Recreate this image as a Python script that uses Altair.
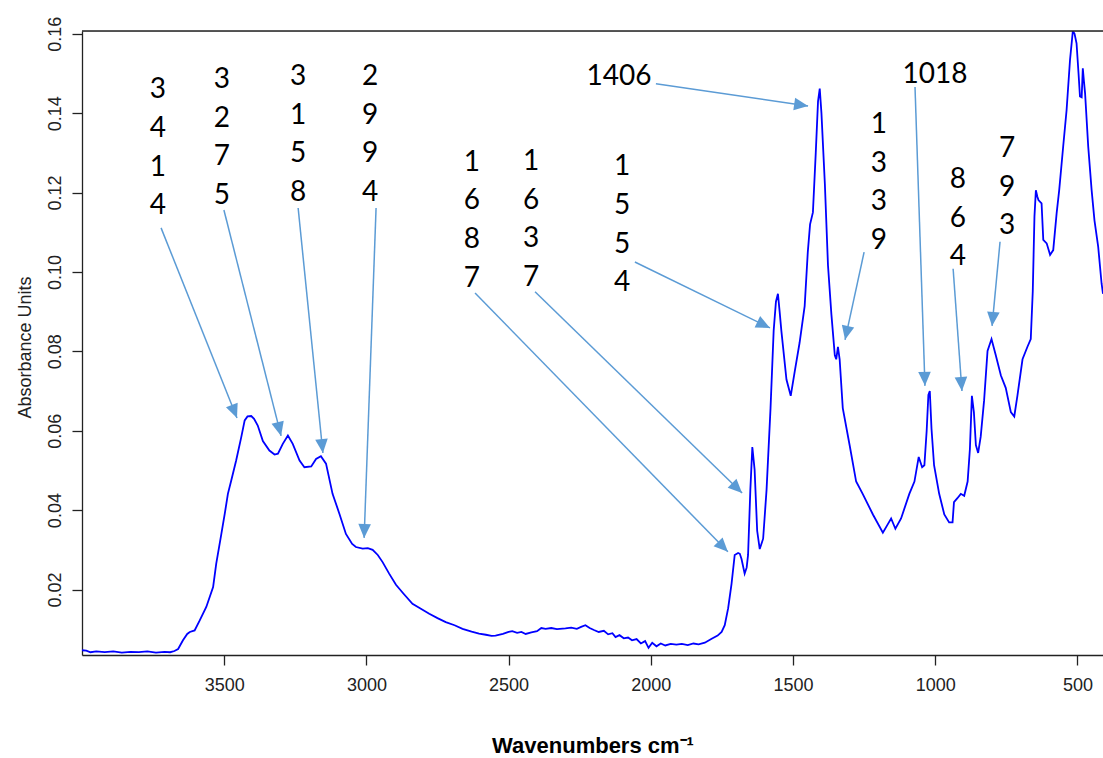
import math
import altair as alt
import pandas as pd

# ---------------- spectrum ----------------
wavenumber = [
    4000, 3985, 3970, 3950, 3920, 3890, 3860, 3830, 3800, 3770, 3740, 3710, 3690, 3675,
    3662, 3645, 3630, 3621, 3604, 3586, 3563, 3539, 3528, 3510, 3498, 3487, 3475, 3458,
    3440, 3428, 3418, 3405, 3395, 3382, 3364, 3341, 3323, 3311, 3294, 3276, 3259, 3235,
    3218, 3194, 3177, 3160, 3142, 3119, 3095, 3072, 3050, 3037, 3013, 2995, 2978, 2960,
    2943, 2920, 2896, 2870, 2838, 2810, 2779, 2750, 2721, 2690, 2662, 2630, 2604, 2580,
    2560, 2546, 2520, 2500, 2487, 2470, 2455, 2440, 2420, 2400, 2385, 2370, 2350, 2330,
    2300, 2280, 2260, 2245, 2230, 2215, 2200, 2183, 2165, 2150, 2135, 2124, 2110, 2095,
    2080, 2066, 2050, 2035, 2020, 2008, 1995, 1980, 1965, 1949, 1930, 1910, 1891, 1870,
    1850, 1832, 1810, 1786, 1765, 1751, 1740, 1728, 1716, 1705, 1693, 1687, 1681, 1670,
    1663, 1658, 1650, 1643, 1635, 1626, 1617, 1605, 1593, 1579, 1568, 1560, 1553, 1547,
    1541, 1523, 1508, 1494, 1477, 1459, 1448, 1440, 1430, 1420, 1412, 1406, 1400, 1388,
    1377, 1365, 1353, 1348, 1342, 1336, 1325, 1301, 1278, 1255, 1219, 1184, 1167, 1155,
    1140, 1120, 1091, 1073, 1058, 1046, 1038, 1030, 1024, 1019, 1013, 1004, 986, 968,
    951, 939, 934, 922, 910, 898, 886, 878, 871, 864, 857, 849, 840, 828,
    816, 802, 787, 769, 752, 734, 722, 711, 693, 676, 664, 657, 651, 646,
    641, 637, 626, 620, 608, 596, 585, 573, 564, 550, 538, 526, 516, 510,
    503, 496, 491, 485, 481, 477, 473, 462, 450, 440, 427, 415, 410,
]
absorbance = [
    0.0047, 0.0046, 0.0042, 0.0044, 0.0042, 0.0044, 0.0041, 0.0043, 0.0042, 0.0044, 0.0041, 0.0043, 0.0042, 0.0045,
    0.0050, 0.0072, 0.0088, 0.0093, 0.0097, 0.0122, 0.0156, 0.0206, 0.0265, 0.0340, 0.0391, 0.0441, 0.0475, 0.0525,
    0.0584, 0.0626, 0.0636, 0.0637, 0.0630, 0.0613, 0.0574, 0.0550, 0.0540, 0.0542, 0.0567, 0.0588, 0.0567, 0.0525,
    0.0508, 0.0510, 0.0529, 0.0536, 0.0517, 0.0441, 0.0391, 0.0340, 0.0315, 0.0307, 0.0303, 0.0304, 0.0300, 0.0287,
    0.0269, 0.0240, 0.0212, 0.0190, 0.0164, 0.0152, 0.0139, 0.0128, 0.0118, 0.0110, 0.0101, 0.0094, 0.0089, 0.0086,
    0.0083, 0.0084, 0.0088, 0.0093, 0.0095, 0.0091, 0.0093, 0.0088, 0.0092, 0.0095, 0.0103, 0.0101, 0.0103, 0.0100,
    0.0102, 0.0104, 0.0101, 0.0106, 0.0110, 0.0103, 0.0098, 0.0093, 0.0096, 0.0087, 0.0090, 0.0080, 0.0085, 0.0077,
    0.0079, 0.0072, 0.0075, 0.0064, 0.0070, 0.0053, 0.0066, 0.0057, 0.0064, 0.0059, 0.0063, 0.0061, 0.0063, 0.0060,
    0.0064, 0.0062, 0.0066, 0.0076, 0.0084, 0.0093, 0.0110, 0.0153, 0.0215, 0.0287, 0.0292, 0.0290, 0.0277, 0.0240,
    0.0255, 0.0287, 0.0451, 0.0559, 0.0502, 0.0348, 0.0302, 0.0328, 0.0451, 0.0657, 0.0852, 0.0925, 0.0945, 0.0900,
    0.0852, 0.0729, 0.0688, 0.0749, 0.0821, 0.0914, 0.1050, 0.1120, 0.1150, 0.1300, 0.1430, 0.1462, 0.1400, 0.1222,
    0.1017, 0.0893, 0.0790, 0.0780, 0.0811, 0.0780, 0.0657, 0.0564, 0.0472, 0.0441, 0.0389, 0.0343, 0.0364, 0.0379,
    0.0353, 0.0379, 0.0441, 0.0472, 0.0534, 0.0508, 0.0513, 0.0600, 0.0690, 0.0700, 0.0605, 0.0513, 0.0441, 0.0389,
    0.0369, 0.0369, 0.0420, 0.0430, 0.0441, 0.0436, 0.0472, 0.0554, 0.0688, 0.0647, 0.0564, 0.0544, 0.0585, 0.0677,
    0.0801, 0.0831, 0.0790, 0.0739, 0.0708, 0.0647, 0.0636, 0.0688, 0.0780, 0.0811, 0.0831, 0.0950, 0.1140, 0.1206,
    0.1190, 0.1181, 0.1173, 0.1081, 0.1072, 0.1043, 0.1055, 0.1148, 0.1206, 0.1316, 0.1408, 0.1534, 0.1607, 0.1600,
    0.1576, 0.1500, 0.1442, 0.1440, 0.1513, 0.1480, 0.1450, 0.1316, 0.1206, 0.1130, 0.1064, 0.0971, 0.0945,
]

# ---------------- annotations ----------------
v_labels = ["3414", "3275", "3158", "2994", "1687", "1637", "1554", "1339", "864", "793"]
v_label_wn = [3733, 3508, 3240, 2987, 2629, 2421, 2101, 1198, 920, 747]
v_label_abs = [0.1458, 0.1484, 0.1491, 0.1491, 0.1275, 0.1277, 0.1264, 0.1370, 0.1232, 0.1310]

h_labels = ["1406", "1018"]
h_label_wn = [2112, 1001]
h_label_abs = [0.1491, 0.1496]

arrow_from_wn = [3722, 3501, 3240, 2966, 2618, 2407, 2056, 1982, 1250, 1071, 937, 772]
arrow_from_abs = [0.1111, 0.1156, 0.1161, 0.1161, 0.0947, 0.0950, 0.1025, 0.1474, 0.1050, 0.1466, 0.1008, 0.1076]
arrow_to_wn = [3455, 3300, 3153, 3008, 1729, 1679, 1581, 1447, 1317, 1036, 906, 800]
arrow_to_abs = [0.0632, 0.0587, 0.0544, 0.0330, 0.0295, 0.0443, 0.0859, 0.1418, 0.0829, 0.0713, 0.0700, 0.0864]

x_ticks = [3500, 3000, 2500, 2000, 1500, 1000, 500]
y_ticks = [0.02, 0.04, 0.06, 0.08, 0.10, 0.12, 0.14, 0.16]

# ---------------- layout ----------------
WIDTH, HEIGHT = 1021, 624
X_DOMAIN = [4000, 410]
Y_DOMAIN = [0.0035, 0.1607]
ARROW = "#5B9BD5"
AXIS_FONT = "Liberation Sans"

x_px = WIDTH / (X_DOMAIN[0] - X_DOMAIN[1])
y_px = HEIGHT / (Y_DOMAIN[1] - Y_DOMAIN[0])

spec_df = pd.DataFrame({"wn": wavenumber, "ab": absorbance})

angles = []
for fw, fa, tw, ta in zip(arrow_from_wn, arrow_from_abs, arrow_to_wn, arrow_to_abs):
    dx = -(tw - fw) * x_px
    dy = -(ta - fa) * y_px
    angles.append(math.degrees(math.atan2(dx, -dy)) % 360)

arrow_df = pd.DataFrame({
    "wn": arrow_from_wn, "ab": arrow_from_abs,
    "wn2": arrow_to_wn, "ab2": arrow_to_abs, "angle": angles,
})
vlab_df = pd.DataFrame({
    "wn": v_label_wn, "ab": v_label_abs,
    "txt": ["\n".join(list(s)) for s in v_labels],
})
hlab_df = pd.DataFrame({"wn": h_label_wn, "ab": h_label_abs, "txt": h_labels})

xs = alt.Scale(domain=X_DOMAIN, nice=False, zero=False)
ys = alt.Scale(domain=Y_DOMAIN, nice=False, zero=False)

x_axis = alt.Axis(
    values=x_ticks, format="d", grid=False, tickSize=10, tickColor="#222",
    tickWidth=1.3, domainColor="#222", domainWidth=1.3,
    labelFont=AXIS_FONT, labelFontSize=18, labelColor="#222", labelPadding=11,
    labelFlush=False, labelOverlap=False,
    title="Wavenumbers cm\u207b\u00b9", titleFont=AXIS_FONT, titleFontSize=22,
    titleFontWeight="bold", titleColor="#000", titleY=97,
    titleBaseline="alphabetic",
)
y_axis = alt.Axis(
    values=y_ticks, format=".2f", grid=False, tickSize=10, tickColor="#222",
    tickWidth=1.3, domainColor="#222", domainWidth=1.3,
    labelFont=AXIS_FONT, labelFontSize=18, labelColor="#222", labelPadding=8,
    labelAngle=270, labelAlign="center", labelBaseline="bottom",
    labelOverlap=False,
    title="Absorbance Units", titleFont=AXIS_FONT, titleFontSize=18,
    titleFontWeight="normal", titleColor="#222", titleAngle=270,
    titleX=-57, titleY=316, titleAlign="center", titleBaseline="middle",
)


def X(field):
    return alt.X(field, type="quantitative", scale=xs, axis=x_axis)


def Y(field):
    return alt.Y(field, type="quantitative", scale=ys, axis=y_axis)


line = alt.Chart(spec_df).mark_line(color="#0000FF", strokeWidth=1.8, clip=True).encode(
    x=X("wn"),
    y=Y("ab"),
    order=alt.Order("wn:Q", sort="descending"),
)

top_frame = alt.Chart(spec_df.head(1)).mark_rule(color="#222", strokeWidth=1.3).encode(
    x=alt.value(0), x2=alt.value(WIDTH), y=alt.value(0),
)

arrows = alt.Chart(arrow_df).mark_rule(color=ARROW, strokeWidth=1.5).encode(
    x=X("wn"), y=Y("ab"), x2="wn2:Q", y2="ab2:Q",
)

heads = alt.Chart(arrow_df).mark_point(
    shape="M0,0L0.9,2L-0.9,2Z", size=196, filled=True, color=ARROW, opacity=1,
    strokeWidth=0,
).encode(
    x=X("wn2"), y=Y("ab2"),
    angle=alt.Angle("angle:Q", scale=None),
)

vtext = alt.Chart(vlab_df).mark_text(
    font="Lato", fontSize=28, color="#000", align="center", baseline="middle",
    lineBreak="\n", lineHeight=38.7,
).encode(
    x=X("wn"), y=Y("ab"), text="txt:N",
)

htext = alt.Chart(hlab_df).mark_text(
    font="Lato", fontSize=28, color="#000", align="center", baseline="middle",
).encode(
    x=X("wn"), y=Y("ab"), text="txt:N",
)

chart = alt.layer(line, top_frame, arrows, heads, vtext, htext).properties(
    width=WIDTH, height=HEIGHT,
    padding={"left": 82, "top": 31, "right": 0, "bottom": 103},
    autosize=alt.AutoSizeParams(type="none"),
).configure_view(stroke=None).configure(background="white")

chart.save("out.html", embed_options={"renderer": "svg", "actions": False})
